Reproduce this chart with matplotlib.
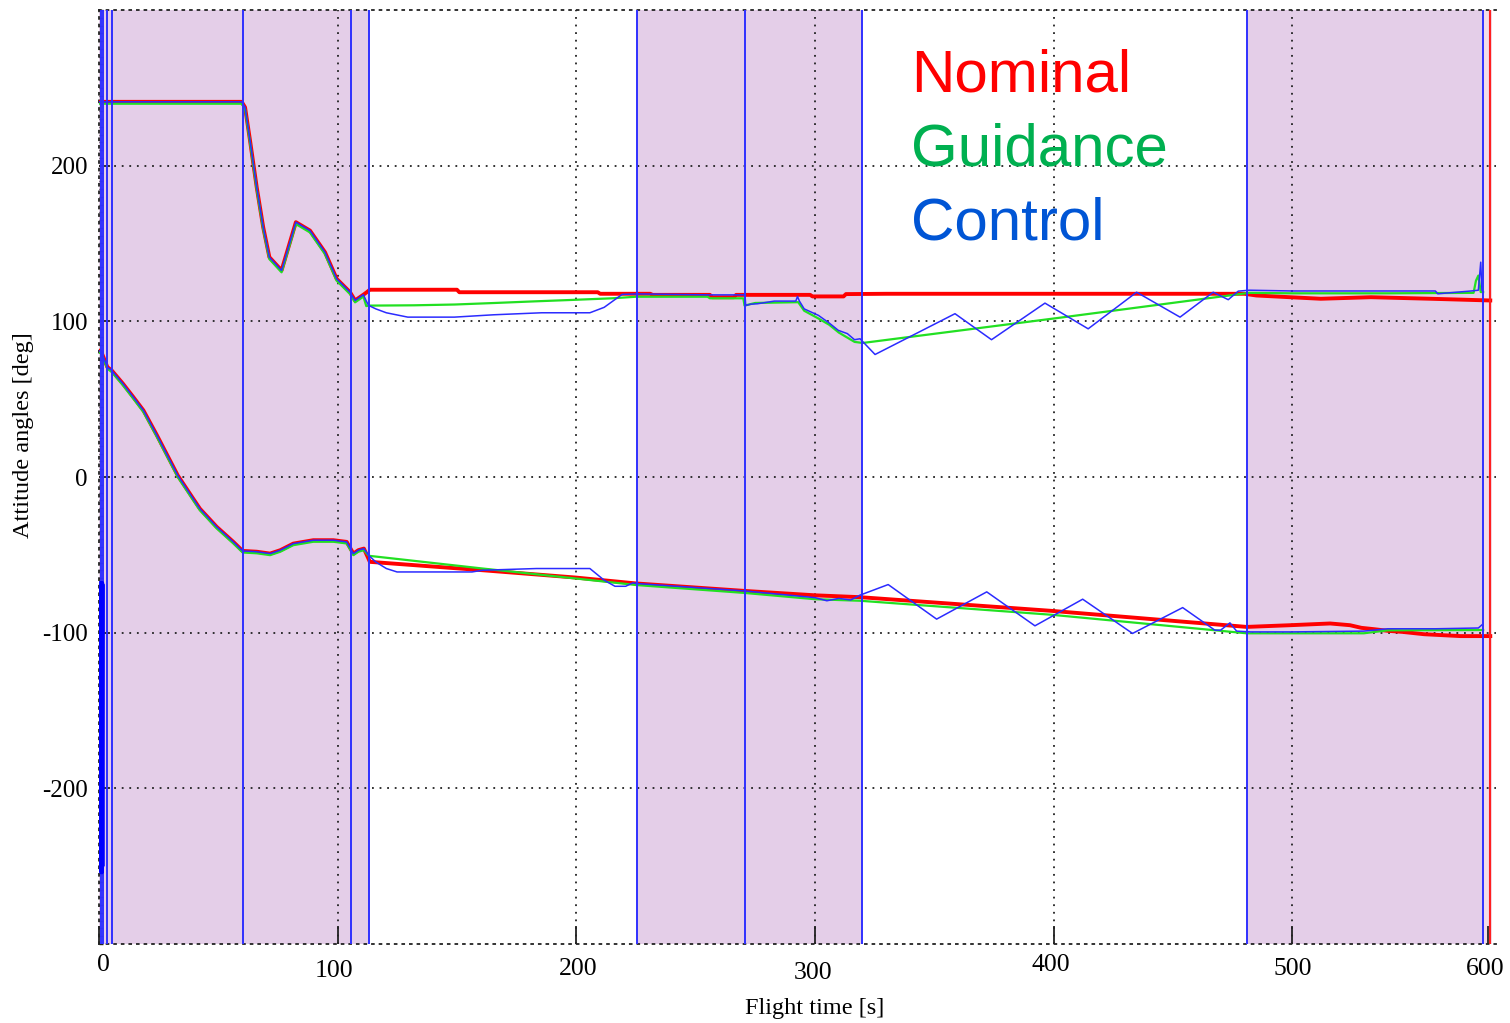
import numpy as np
import matplotlib
matplotlib.use("Agg")
import matplotlib.pyplot as plt
from matplotlib.ticker import MultipleLocator
from matplotlib.transforms import ScaledTranslation

# ---------------- data ----------------
# shared early part of upper angle (all three coincide)
t_early_up = [0, 59.8, 61.2, 63.3, 66.1, 68.8, 71.4, 76.5, 82.5, 88.4, 94.7, 99.6, 105.2, 107.3, 110.8]
y_early_up = [241, 241, 237.5, 216, 186, 160.5, 141.2, 132.7, 163.7, 158.3, 144.4, 127.3, 118.7, 113.4, 117.1]

# shared early part of lower angle
t_early_lo = [0.3, 1, 3.5, 5.3, 10.0, 14.4, 18.6, 24.2, 33.0, 39.5, 42.3, 49.3, 56.3, 60.2, 66.1, 71.7, 76.0, 81.4, 89.8, 98.2, 103.8, 106.6, 108.7, 111]
y_early_lo = [80.9, 80.3, 70.6, 68.5, 60.0, 51.3, 42.8, 27.0, 1.0, -14, -20.4, -32, -41.7, -47.5, -48, -49.2, -47.0, -42.8, -40.6, -40.6, -41.7, -49.2, -47, -46]

# Nominal (red)
t_nom_up = [112.2, 113.5, 150, 151, 209, 210, 231, 232, 256, 257, 266, 267, 298, 299, 312, 313, 330, 480, 485, 499, 512, 533, 558, 583]
y_nom_up = [118.7, 120.3, 120.3, 118.7, 118.7, 117.7, 117.7, 117, 117, 115.5, 115.5, 117, 117, 116, 116, 117.5, 117.7, 117.7, 116.6, 115.5, 114.5, 115.5, 114.5, 113.4]
t_nom_lo = [112.9, 113.5, 160.8, 199.8, 225.2, 270.7, 300, 318.9, 399.2, 480.9, 499.3, 515.9, 524.2, 529, 534.5, 540, 546.2, 555.3, 570.5, 583]
y_nom_lo = [-52.4, -54.5, -59.9, -64.6, -68.4, -73.2, -76.0, -77.2, -86, -96.3, -95.2, -94.1, -95.2, -96.9, -97.8, -98.8, -99.5, -101, -102.2, -102.2]

# Guidance (green)
t_gui_up = [112, 113, 132, 149, 166, 182, 199, 215, 225, 255, 256, 270, 270.5, 275, 293, 295.5, 301.5, 306, 310, 316.6, 320, 400, 482, 500, 540, 576, 577, 578, 579, 580]
y_gui_up = [111, 111.3, 111.5, 112, 113, 114, 115, 116, 117, 117, 116, 116, 111.3, 113, 113.5, 108, 103, 99, 94, 88, 87.3, 103, 119.5, 119.2, 119.2, 119.5, 127.3, 130.6, 120, 120]
t_gui_lo = [113, 160.8, 199.8, 225.2, 270.7, 300, 318.9, 399.2, 480.9, 530, 540, 580]
y_gui_lo = [-49.6, -57.8, -64.2, -68.4, -73.5, -77.5, -78.5, -87.5, -99.4, -99.4, -97.5, -97.3]

# Control (blue)
t_ctl_up = [112, 113, 116, 120.4, 129.4, 148.9, 165.3, 185.5, 205.7, 211.7, 219.2, 225.5, 231.5, 255.7, 270.7, 271, 273, 276, 283, 292, 292.7, 293.5, 295.5, 301.5, 306, 309.8, 313.6, 316.6, 318.9, 325.2, 358.7, 374, 396.4, 414.5, 434.8, 453, 466.9, 473.2, 477.4, 482, 500, 540, 560, 561, 575, 578, 579, 579.5]
y_ctl_up = [113, 110.2, 108, 105.5, 102.7, 102.7, 104.2, 105.5, 105.5, 109, 117.3, 117.6, 117.5, 117, 117, 110.2, 111, 111.3, 113, 113, 116, 113, 108, 103.8, 98.9, 94.2, 92.1, 88.2, 88.8, 78.7, 104.9, 88.2, 111.7, 95.2, 118.7, 102.7, 118.7, 113.9, 119.4, 120, 119.5, 119.5, 119.5, 117.7, 119.5, 120, 138, 120]
t_ctl_lo = [112.9, 116, 120.4, 124.9, 156.3, 160.8, 183.3, 205.7, 211.7, 216.2, 220.7, 223.7, 225.2, 270.7, 300, 305, 310, 315, 318.9, 330.7, 351, 372, 392.2, 412.2, 433.1, 454.1, 467.6, 470, 473.9, 476.7, 482.5, 500, 530, 540, 560, 578, 579.5]
y_ctl_lo = [-50.2, -54.6, -58.8, -61, -61, -59.9, -58.8, -58.8, -66.3, -70.2, -70.2, -68, -68.4, -73.2, -77.5, -79.5, -78, -79, -75.9, -69.1, -91.3, -73.8, -95.6, -78.5, -100.5, -83.9, -98.4, -98.4, -93.7, -99, -99.5, -99.5, -99, -97.5, -97.5, -97, -95]
t_ctl_spike = [0.8, 0.9, 1.0, 1.1, 1.2, 1.3, 1.4, 1.5, 1.6]
y_ctl_spike = [-68, -254, -70, -250, -72, -254, -68, -250, -70]

# phases / events
shade_spans = [(0, 113.1), (225.4, 319.7), (481.0, 579.9)]
event_lines = [0.8, 1.8, 3.5, 5.3, 60.3, 105.6, 113.1, 225.4, 270.7, 319.7, 481.0, 579.9]
end_line = 582.9

xtick_pos = [0, 100, 200, 300, 400, 500, 582]
xtick_lab = ["0", "100", "200", "300", "400", "500", "600"]
ytick_pos = [-200, -100, 0, 100, 200]
ytick_lab = ["-200", "-100", "0", "100", "200"]

legend_names = ["Nominal", "Guidance", "Control"]
legend_cols = ["#FF0000", "#00B050", "#0055D5"]

# ---------------- plot ----------------
fig = plt.figure(figsize=(15.1, 10.23), dpi=100)
ax = fig.add_axes([99 / 1510, 1 - 944 / 1023, (1496 - 99) / 1510, (944 - 10) / 1023])

shade = "#E4CEE8"
for a, b in shade_spans:
    ax.axvspan(a, b, color=shade, lw=0, zorder=0)
ax.axvspan(event_lines[-1], end_line + 0.8, color="#F2DCE8", lw=0, zorder=0)

dot = (0, (1, 3.2))
for xv in [100, 200, 300, 400, 500]:
    ax.axvline(xv, color="#222222", lw=1.3, ls=dot, zorder=1)
for yv in ytick_pos:
    ax.axhline(yv, color="#222222", lw=1.3, ls=dot, zorder=1)

red = "#FF0000"
green = "#22E022"
blue = "#2B2BFF"

def cat(a, b):
    return np.array(list(a) + list(b))

ax.plot(cat(t_early_up, t_nom_up), cat(y_early_up, y_nom_up), color=red, lw=2.8, zorder=3)
ax.plot(cat(t_early_lo, t_nom_lo), cat(y_early_lo, y_nom_lo), color=red, lw=2.8, zorder=3)
ax.plot(cat(t_early_up, t_gui_up), np.array(cat(y_early_up, y_gui_up)) - 1.2, color=green, lw=1.6, zorder=4)
ax.plot(cat(t_early_lo, t_gui_lo), np.array(cat(y_early_lo, y_gui_lo)) - 1.0, color=green, lw=1.6, zorder=4)
ax.plot(cat(t_early_up, t_ctl_up), cat(y_early_up, y_ctl_up), color=blue, lw=1.1, zorder=5)
ax.plot(cat(t_early_lo, t_ctl_lo), cat(y_early_lo, y_ctl_lo), color=blue, lw=1.1, zorder=5)
ax.plot(t_ctl_spike, y_ctl_spike, color="#0000FF", lw=2.6, zorder=7)

for xv in event_lines:
    ax.axvline(xv, color="#3030FF", lw=1.4, zorder=6)
ax.axvline(end_line, color="#FF2020", lw=1.5, zorder=6)

ax.set_xlim(0, 585.4)
ax.set_ylim(-300, 300)

for side in ["top", "bottom", "left"]:
    ax.spines[side].set_linestyle(dot)
    ax.spines[side].set_linewidth(1.3)
    ax.spines[side].set_color("#222222")
ax.spines["right"].set_visible(False)

serif = ["Liberation Serif", "DejaVu Serif"]
ax.set_xticks(xtick_pos)
ax.set_xticklabels(xtick_lab, family=serif, fontsize=18.5)
ax.set_yticks(ytick_pos)
ax.set_yticklabels(ytick_lab, family=serif, fontsize=18)
ax.yaxis.set_minor_locator(MultipleLocator(5))
ax.tick_params(axis="x", direction="in", length=13, width=1.3, color="#222222", pad=8)
ax.tick_params(axis="y", which="major", direction="in", length=8, width=1.3, color="#222222", pad=8)
ax.tick_params(axis="y", which="minor", direction="in", length=3, width=1.0, color="#222222")
ax.tick_params(axis="x", which="minor", bottom=False)

# slight per-label offsets as in the original rendering (pixels)
lab_dx = [4, -4, 2, -2, -3, 1, -3]
lab_dy = [1, -5, -3, -7, 1, -3, -3]
for lab, dx, dy in zip(ax.get_xticklabels(), lab_dx, lab_dy):
    lab.set_transform(lab.get_transform() + ScaledTranslation(dx / 100, dy / 100, fig.dpi_scale_trans))

ax.set_xlabel("Flight time [s]", family=serif, fontsize=17.5)
ax.xaxis.set_label_coords((815 - 99) / 1397, (944 - 998) / 934)
ax.set_ylabel("Attitude angles [deg]", family=serif, fontsize=17.5)
ax.yaxis.set_label_coords((34 - 99) / 1397, (944 - 435) / 934)

sans = ["Liberation Sans", "DejaVu Sans"]
base_y = [92, 166, 240]
for name, col, by in zip(legend_names, legend_cols, base_y):
    fig.text(911 / 1510, 1 - by / 1023, name, color=col, fontsize=43.3, family=sans,
             ha="left", va="baseline")

fig.savefig("out.png", dpi=100)
